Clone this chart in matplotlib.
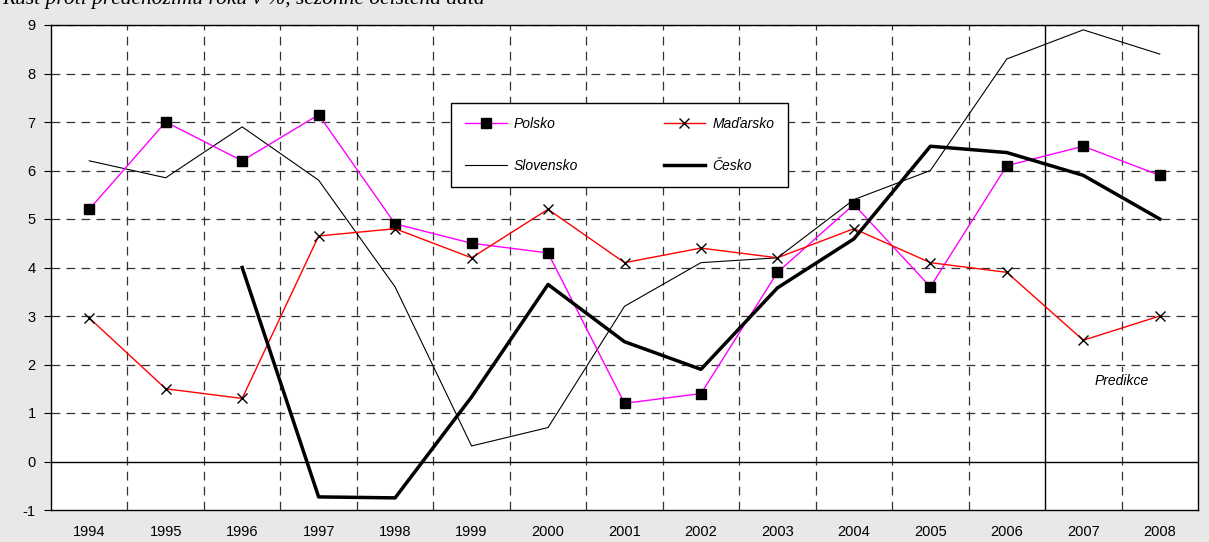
import matplotlib
matplotlib.use("Agg")
import matplotlib.pyplot as plt

# roky a data (rust HDP, % r/r)
roky = ['1994', '1995', '1996', '1997', '1998', '1999', '2000', '2001',
        '2002', '2003', '2004', '2005', '2006', '2007', '2008']
polsko = [5.2, 7.0, 6.2, 7.15, 4.9, 4.5, 4.3, 1.2, 1.4, 3.9, 5.3, 3.6, 6.1, 6.5, 5.9]
madarsko = [2.96, 1.5, 1.3, 4.65, 4.8, 4.2, 5.2, 4.1, 4.4, 4.2, 4.8, 4.1, 3.9, 2.5, 3.0]
slovensko = [6.2, 5.85, 6.9, 5.8, 3.6, 0.32, 0.7, 3.2, 4.1, 4.2, 5.4, 6.0, 8.3, 8.9, 8.4]
cesko = [None, None, 4.0, -0.73, -0.75, 1.33, 3.65, 2.47, 1.9, 3.58, 4.59, 6.5, 6.37, 5.9, 5.0]
y_ticks = list(range(-1, 10))

fig = plt.figure(figsize=(12.09, 5.42), dpi=100, facecolor='#e8e8e6')
ax = fig.add_axes([51/1209, 1-510/542, (1198-51)/1209, (510-25)/542])
ax.set_facecolor('white')

x = list(range(len(roky)))
cx = [i for i, v in zip(x, cesko) if v is not None]
cy = [v for v in cesko if v is not None]

# mrizka
for b in [i + 0.5 for i in range(len(roky) - 1)]:
    if b == 12.5:
        ax.axvline(b, color='black', lw=1.0, zorder=1)
    else:
        ax.axvline(b, color='#333333', lw=0.9, dashes=(7, 5), zorder=1)
for t in y_ticks[1:]:
    if t == 0:
        ax.axhline(0, color='black', lw=1.0, zorder=1)
    else:
        ax.axhline(t, color='#333333', lw=0.9, dashes=(7, 5), zorder=1)

ax.plot(x, slovensko, color='black', lw=0.8, label='Slovensko', zorder=3)
ax.plot(x, polsko, color='#ff00ff', lw=1.0, marker='s', markersize=6.5,
        markerfacecolor='black', markeredgecolor='black', label='Polsko', zorder=4)
ax.plot(x, madarsko, color='#ff0000', lw=1.0, marker='x', markersize=7,
        markeredgecolor='black', markeredgewidth=1.0, label='Maďarsko', zorder=4)
ax.plot(cx, cy, color='black', lw=2.5, label='Česko', zorder=5)

ax.set_xlim(-0.5, len(roky) - 0.5)
ax.set_ylim(-1, 9)
ax.set_xticks(x)
ax.set_xticklabels(roky, fontsize=10.5, family='Liberation Sans')
ax.set_yticks(y_ticks)
ax.set_yticklabels([str(t) for t in y_ticks], fontsize=10.5, family='Liberation Sans')
ax.tick_params(axis='x', length=0, pad=11)
ax.tick_params(axis='y', length=5, direction='out', pad=6)
for s in ax.spines.values():
    s.set_color('black')
    s.set_linewidth(1.0)

ax.text(13.5, 1.65, 'Predikce', fontsize=10, style='italic', family='Liberation Sans',
        ha='center', va='center', zorder=6,
        bbox=dict(facecolor='white', edgecolor='none', pad=2))

# legenda: Polsko, Madarsko / Slovensko, Cesko (plni se po sloupcich)
h, l = ax.get_legend_handles_labels()
order = [1, 0, 2, 3]
leg = fig.legend([h[i] for i in order], [l[i] for i in order], ncol=2,
                 loc='upper left', mode='expand', borderaxespad=0,
                 bbox_to_anchor=(451/1209, 1-187/542, (788-451)/1209, (187-103)/542),
                 prop={'family': 'Liberation Sans', 'style': 'italic', 'size': 10},
                 frameon=True, fancybox=False, edgecolor='black', framealpha=1,
                 handlelength=3.0, handletextpad=0.5, borderpad=1.0,
                 labelspacing=2.0, columnspacing=2)
leg.get_frame().set_linewidth(1.0)

fig.text(2/1209, 1 + 1/542, 'Růst proti předchozímu roku v %, sezónně očištěná data',
         fontsize=15.5, style='italic', family='Liberation Serif', va='center', ha='left')

fig.savefig('out.png', dpi=100, facecolor=fig.get_facecolor())
